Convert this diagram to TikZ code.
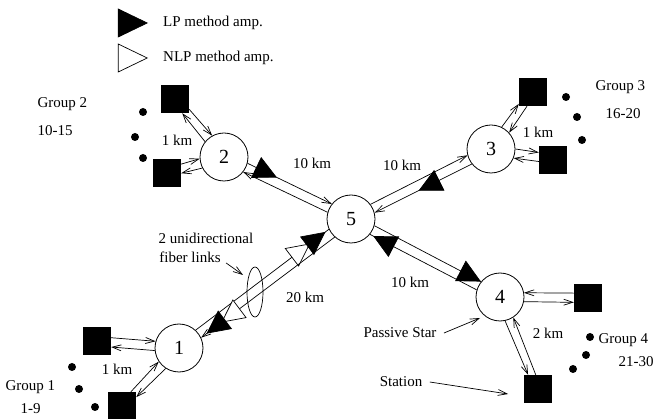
\documentclass[tikz,border=0pt]{standalone}
\usepackage{fontspec}
\setmainfont{Liberation Serif}
\usetikzlibrary{arrows.meta,calc,shapes.geometric}

% one directed fibre: from #1 to #2, angular offsets #3/#4 at the two ends,
% options #5, extra path material (amplifier nodes) #6
\newcommand\fiber[6]{%
  \draw[#5] let \p1=($(#2)-(#1)$), \n1={atan2(\y1,\x1)},
      \n2={\n1+(#3)}, \n3={\n1+180-(#4)} in
    (#1.\n2) -- (#2.\n3) #6;}

\begin{document}
\begin{tikzpicture}[x=1pt,y=-1pt,
  every node/.style={font=\fontsize{15}{17}\selectfont},
  hub/.style={circle,draw,line width=0.8pt,minimum size=48pt,inner sep=0pt,
    fill=white,font=\fontsize{20}{22}\selectfont},
  station/.style={rectangle,fill=black,minimum size=28pt,inner sep=0pt},
  dot/.style={circle,fill=black,minimum size=8pt,inner sep=0pt},
  link/.style={line width=0.7pt},
  arr/.style={link,-{Straight Barb[length=9pt,width=6pt]}},
  ampshape/.style={isosceles triangle,isosceles triangle stretches,
    draw=black,line width=0.7pt,inner sep=0pt},
  lpamp/.style={ampshape,fill=black,minimum width=22pt,minimum height=22pt,
    sloped,allow upside down},
  nlpamp/.style={lpamp,fill=white},
  bundle/.style={ellipse,draw,line width=0.7pt,minimum width=16pt,
    minimum height=50pt,inner sep=0pt},
]
\useasboundingbox (0,0) rectangle (664,419);

% legend
\node[ampshape,fill=black,minimum width=28pt,minimum height=29pt] (legLP) at (127,23) {};
\node[ampshape,fill=white,minimum width=28pt,minimum height=29pt] (legNLP) at (127,58) {};
\node[anchor=west,inner sep=0pt] (legLPtxt) at (163,23) {LP method amp.};
\node[anchor=west,inner sep=0pt] (legNLPtxt) at (163,58) {NLP method amp.};

% passive stars
\node[hub] (h1) at (179,348) {1};
\node[hub] (h2) at (224,157) {2};
\node[hub] (h3) at (491,149) {3};
\node[hub] (h4) at (500,297) {4};
\node[hub] (h5) at (351,219) {5};

% stations
\node[station] (s1a) at (97,341) {};
\node[station] (s1b) at (122,406) {};
\node[station] (s2a) at (175,99) {};
\node[station] (s2b) at (167,173) {};
\node[station] (s3a) at (533,92) {};
\node[station] (s3b) at (553,160) {};
\node[station] (s4a) at (588,298) {};
\node[station] (s4b) at (538,389) {};

% ellipsis dots of each group
\node[dot] (g1d1) at (72,367) {};
\node[dot] (g1d2) at (79,389) {};
\node[dot] (g1d3) at (95,407) {};
\node[dot] (g2d1) at (143,112) {};
\node[dot] (g2d2) at (135,137) {};
\node[dot] (g2d3) at (143,158) {};
\node[dot] (g3d1) at (566,97) {};
\node[dot] (g3d2) at (577,117) {};
\node[dot] (g3d3) at (582,140) {};
\node[dot] (g4d1) at (590,337) {};
\node[dot] (g4d2) at (586,355) {};
\node[dot] (g4d3) at (573,369) {};

% station access links (two one-way fibres each)
\fiber{s1a}{h1}{18}{11}{arr}{}
\fiber{h1}{s1a}{11}{18}{arr}{}
\fiber{s1b}{h1}{13}{11}{arr}{}
\fiber{h1}{s1b}{11}{13}{arr}{}
\fiber{s2a}{h2}{13}{11}{arr}{}
\fiber{h2}{s2a}{11}{13}{arr}{}
\fiber{s2b}{h2}{17}{11}{arr}{}
\fiber{h2}{s2b}{11}{17}{arr}{}
\fiber{h3}{s3a}{11}{13}{arr}{}
\fiber{s3a}{h3}{13}{11}{arr}{}
\fiber{h3}{s3b}{11}{17}{arr}{}
\fiber{s3b}{h3}{17}{11}{arr}{}
\fiber{s4a}{h4}{-18}{-11}{arr}{}
\fiber{h4}{s4a}{-11}{-18}{arr}{}
\fiber{h4}{s4b}{-11}{-13}{arr}{}
\fiber{s4b}{h4}{-13}{-11}{arr}{}

% backbone links to the central star
\fiber{h2}{h5}{11}{11}{arr}{node[lpamp,anchor=apex,pos=0.35] (a25) {}}
\fiber{h5}{h2}{11}{11}{arr}{}
\fiber{h5}{h3}{11}{11}{arr}{}
\fiber{h3}{h5}{11}{11}{arr}{node[lpamp,pos=0.40] (a35) {}}
\fiber{h5}{h4}{11}{11}{link}{node[lpamp,anchor=apex,pos=1] (a54) {}}
\fiber{h4}{h5}{11}{11}{link}{node[lpamp,anchor=apex,pos=0.97] (a45) {}}
\fiber{h1}{h5}{11}{11}{link}{node[nlpamp,anchor=apex,pos=0.86] (b15) {}
  node[lpamp,anchor=apex,pos=0.975] (a15) {}}
\fiber{h5}{h1}{11}{11}{arr}{node[nlpamp,anchor=apex,pos=0.85] (b51) {}
  node[lpamp,anchor=apex,pos=0.96] (a51) {}}

% fibre pair marker
\node[bundle] (pair) at (255,292) {};

% group names and station numbers
\node[anchor=west] (g1name) at (2,387) {Group 1};
\node[anchor=west] (g1ids) at (17,409) {1-9};
\node[anchor=west] (g2name) at (34,104) {Group 2};
\node[anchor=west] (g2ids) at (34,131) {10-15};
\node[anchor=west] (g3name) at (592,87) {Group 3};
\node[anchor=west] (g3ids) at (602,114) {16-20};
\node[anchor=west] (g4name) at (595,340) {Group 4};
\node[anchor=west] (g4ids) at (615,362) {21-30};

% distances
\node (d1) at (117,369) {1 km};
\node (d2) at (177,140) {1 km};
\node (d3) at (538,132) {1 km};
\node (d4) at (548,333) {2 km};
\node (d25) at (312,163) {10 km};
\node (d35) at (402,165) {10 km};
\node (d45) at (410,282) {10 km};
\node (d15) at (305,297) {20 km};

% annotations
\node (tFib1) at (206,238) {2 unidirectional};
\node (tFib2) at (190,257) {fiber links};
\coordinate (fibTip) at (243,275);
\draw[arr] ([shift={(2,6)}]tFib2.east) -- (fibTip);
\node (tStar) at (400,333) {Passive Star};
\coordinate (starTip) at (480,318);
\draw[arr] ([xshift=4]tStar.east) -- (starTip);
\node (tStation) at (401,382) {Station};
\coordinate (stTip) at (508,394);
\draw[arr] ([xshift=4]tStation.east) -- (stTip);
\end{tikzpicture}
\end{document}
